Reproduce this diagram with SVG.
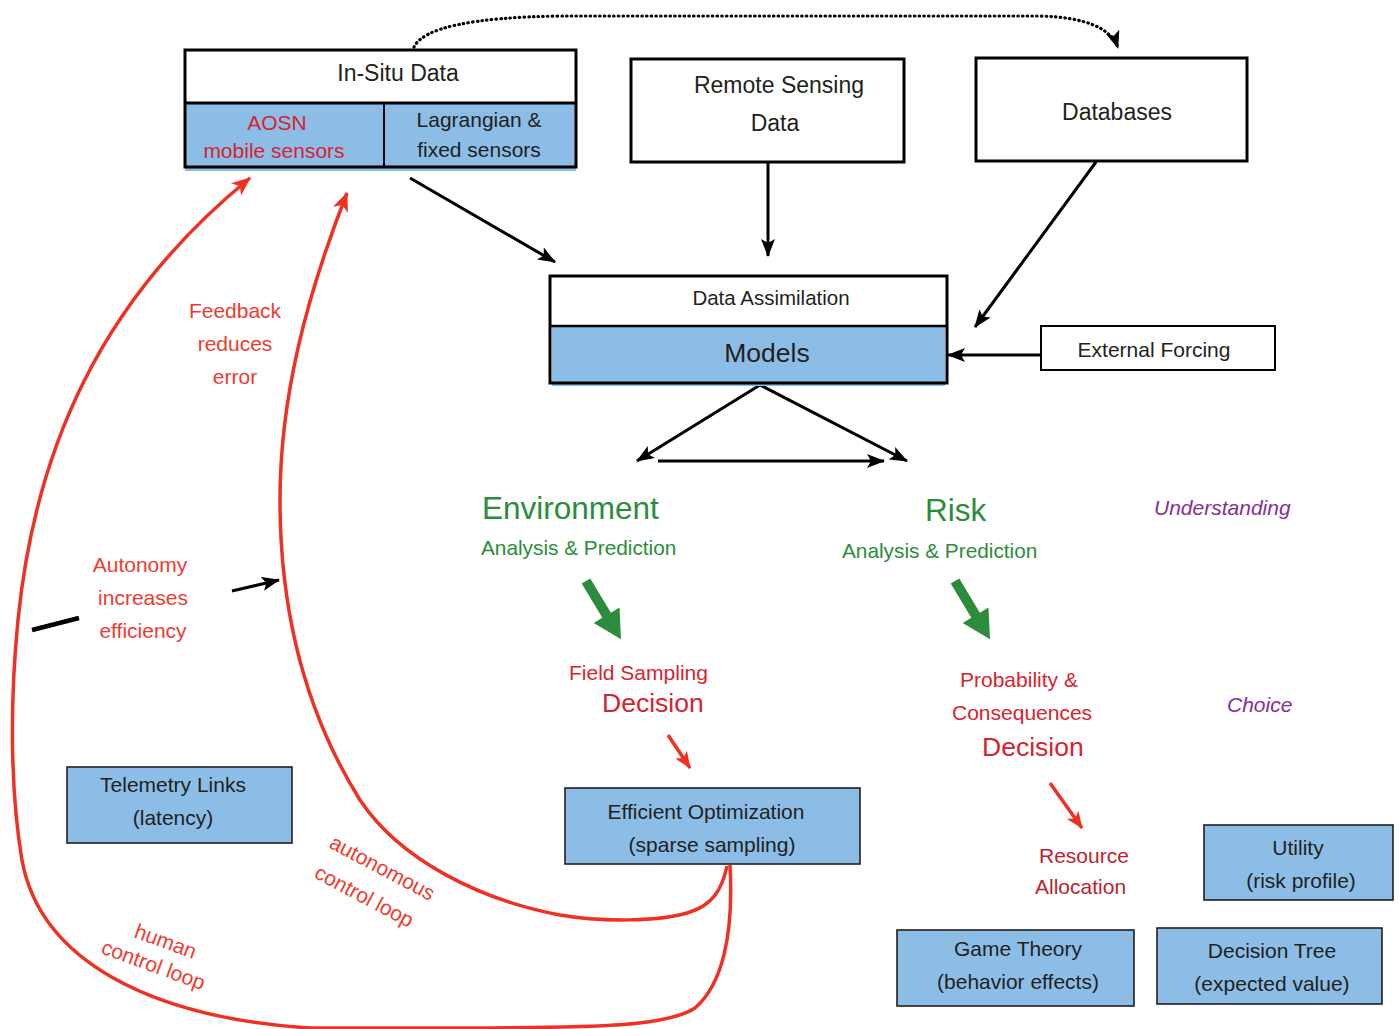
<svg xmlns="http://www.w3.org/2000/svg" width="1399" height="1029" viewBox="0 0 1399 1029">
<style>
text{font-family:"Liberation Sans",Arial,sans-serif;}
.bx{font-size:21px;fill:#231f20;text-anchor:middle;}
.bxl{font-size:23px;fill:#231f20;text-anchor:middle;}
.blue{fill:#8bbde6;}
.thick{fill:none;stroke:#000;stroke-width:3;}
.thin{stroke:#231f20;stroke-width:1.6;}
.grn{fill:#2b8d3b;}
.red{fill:#ef3b2f;font-size:21px;text-anchor:middle;}
.redl{fill:#ef3b2f;font-size:21px;}
.dred{fill:#d8232e;}
.rred{fill:#be1e2d;}
.pur{fill:#872d96;font-size:21px;font-style:italic;}
.blk{fill:none;stroke:#000;stroke-width:3;}
.rl{fill:none;stroke:#ee3124;stroke-width:3.5;}
</style>
<defs>
<marker id="ah" markerUnits="userSpaceOnUse" markerWidth="19" markerHeight="14" refX="17" refY="7" orient="auto">
<path d="M0,0 L18,7 L0,14 L4,7 z" fill="#000"/>
</marker>
<marker id="rh" markerUnits="userSpaceOnUse" markerWidth="20" markerHeight="16" refX="18" refY="8" orient="auto">
<path d="M0,0 L19,8 L0,16 L5,8 z" fill="#ee3124"/>
</marker>
<marker id="rhs" markerUnits="userSpaceOnUse" markerWidth="18" markerHeight="14" refX="16" refY="7" orient="auto">
<path d="M0,0 L17,7 L0,14 L4,7 z" fill="#ee3124"/>
</marker>
<path id="garrow" d="M0,-5 L40,-5 L40,-15 L68,0 L40,15 L40,5 L0,5 z"/>
</defs>

<g id="connectors">
<path d="M414 47 Q428 18 560 16 L1040 16 Q1108 18 1118 48" fill="none" stroke="#000" stroke-width="3.2" stroke-dasharray="0.5 4.2" stroke-linecap="round" marker-end="url(#ah)"/>
<line x1="410" y1="178" x2="555" y2="262" class="blk" marker-end="url(#ah)"/>
<line x1="768" y1="162" x2="768" y2="256" class="blk" stroke-width="3.5" marker-end="url(#ah)"/>
<line x1="1096" y1="162" x2="975" y2="327" class="blk" marker-end="url(#ah)"/>
<line x1="1041" y1="355" x2="948" y2="355" class="blk" stroke-width="4.5" marker-end="url(#ah)"/>
<line x1="760" y1="385" x2="637" y2="461" class="blk" marker-end="url(#ah)"/>
<line x1="760" y1="385" x2="907" y2="461" class="blk" marker-end="url(#ah)"/>
<line x1="658" y1="461" x2="884" y2="461" class="blk" stroke-width="4.5" marker-end="url(#ah)"/>
<use href="#garrow" class="grn" transform="translate(586,581) rotate(59)"/>
<use href="#garrow" class="grn" transform="translate(955,581) rotate(59)"/>
<line x1="668" y1="735" x2="690" y2="768" class="rl" stroke-width="3" marker-end="url(#rhs)"/>
<line x1="1050" y1="783" x2="1082" y2="828" class="rl" stroke-width="3" marker-end="url(#rhs)"/>
<line x1="32" y1="630" x2="79" y2="618" stroke="#000" stroke-width="4.5"/>
<line x1="232" y1="591" x2="279" y2="580" class="blk" marker-end="url(#ah)"/>
<path class="rl" marker-end="url(#rh)" d="M730 865 C734 935 722 985 695 1008 C665 1028 580 1027 486 1028 L311 1028 C150 1018 40 960 22 860 C10 790 10 700 18 620 C35 450 100 300 250 178"/>
<path class="rl" marker-end="url(#rh)" d="M727 866 C722 890 712 905 690 912 C660 922 600 922 560 915 C480 900 400 860 360 800 C310 720 280 620 280 500 C280 400 305 300 347 193"/>
</g>

<g id="insitu">
<rect x="185" y="103" width="391" height="68" class="blue"/>
<rect x="185" y="50" width="391" height="117" class="thick"/>
<line x1="185" y1="103" x2="576" y2="103" stroke="#000" stroke-width="3"/>
<line x1="384" y1="103" x2="384" y2="167" stroke="#000" stroke-width="2"/>
<text x="398" y="81" class="bxl">In-Situ Data</text>
<text x="277" y="130" class="dred" font-size="21" text-anchor="middle">AOSN</text>
<text x="274" y="158" class="dred" font-size="21" text-anchor="middle">mobile sensors</text>
<text x="479" y="127" class="bx">Lagrangian &amp;</text>
<text x="479" y="157" class="bx">fixed sensors</text>
</g>

<g id="remote">
<rect x="631" y="59" width="273" height="103" class="thick"/>
<text x="779" y="93" class="bxl">Remote Sensing</text>
<text x="775" y="131" class="bxl">Data</text>
</g>

<g id="databases">
<rect x="976" y="58" width="271" height="103" class="thick"/>
<text x="1117" y="120" class="bxl">Databases</text>
</g>

<g id="assimilation">
<rect x="552" y="326" width="393" height="60" class="blue"/>
<rect x="550" y="276" width="397" height="107" class="thick" stroke-width="2.5"/>
<line x1="550" y1="326" x2="947" y2="326" stroke="#000" stroke-width="2.5"/>
<text x="771" y="305" class="bx" style="font-size:20.5px">Data Assimilation</text>
<text x="767" y="362" class="bx" style="font-size:26.5px">Models</text>
</g>

<g id="forcing">
<rect x="1041" y="326" width="234" height="44" fill="#fff" stroke="#000" stroke-width="2"/>
<text x="1154" y="357" class="bx">External Forcing</text>
</g>

<g id="environment">
<text x="482" y="519" class="grn" font-size="31.5">Environment</text>
<text x="481" y="555" class="grn" font-size="20.8">Analysis &amp; Prediction</text>
</g>

<g id="risk">
<text x="925" y="521" class="grn" font-size="31.5">Risk</text>
<text x="842" y="558" class="grn" font-size="20.8">Analysis &amp; Prediction</text>
</g>

<g id="understanding"><text x="1154" y="515" class="pur">Understanding</text></g>
<g id="choice"><text x="1227" y="712" class="pur">Choice</text></g>

<g id="fieldsampling">
<text x="569" y="680" class="dred" font-size="21">Field Sampling</text>
<text x="602" y="712" class="dred" font-size="26.5">Decision</text>
</g>

<g id="probability">
<text x="960" y="687" class="dred" font-size="21">Probability &amp;</text>
<text x="952" y="720" class="dred" font-size="21">Consequences</text>
<text x="982" y="756" class="dred" font-size="26.5">Decision</text>
</g>

<g id="resource">
<text x="1039" y="863" class="rred" font-size="21">Resource</text>
<text x="1035" y="894" class="rred" font-size="21">Allocation</text>
</g>

<g id="feedback">
<text x="235" y="318" class="red">Feedback</text>
<text x="235" y="351" class="red">reduces</text>
<text x="235" y="384" class="red">error</text>
</g>

<g id="autonomy">
<text x="140" y="572" class="red">Autonomy</text>
<text x="143" y="605" class="red">increases</text>
<text x="143" y="638" class="red">efficiency</text>
</g>

<g id="telemetry">
<rect x="67" y="767" width="225" height="76" class="blue thin"/>
<text x="173" y="792" class="bx">Telemetry Links</text>
<text x="173" y="825" class="bx">(latency)</text>
</g>

<g id="optimization">
<rect x="565" y="788" width="295" height="76" class="blue thin"/>
<text x="706" y="819" class="bx">Efficient Optimization</text>
<text x="712" y="852" class="bx">(sparse sampling)</text>
</g>

<g id="utility">
<rect x="1204" y="825" width="189" height="75" class="blue thin"/>
<text x="1298" y="855" class="bx">Utility</text>
<text x="1301" y="888" class="bx">(risk profile)</text>
</g>

<g id="gametheory">
<rect x="897" y="930" width="237" height="76" class="blue thin"/>
<text x="1018" y="956" class="bx">Game Theory</text>
<text x="1018" y="989" class="bx">(behavior effects)</text>
</g>

<g id="decisiontree">
<rect x="1157" y="928" width="225" height="76" class="blue thin"/>
<text x="1272" y="958" class="bx">Decision Tree</text>
<text x="1272" y="991" class="bx">(expected value)</text>
</g>

<g id="loop-labels">
<text x="328" y="847" class="redl" transform="rotate(28 328 847)">autonomous</text>
<text x="313" y="877" class="redl" transform="rotate(28 313 877)">control loop</text>
<text x="133" y="937" class="redl" transform="rotate(20 133 937)">human</text>
<text x="100" y="953" class="redl" transform="rotate(20 100 953)">control loop</text>
</g>
</svg>
